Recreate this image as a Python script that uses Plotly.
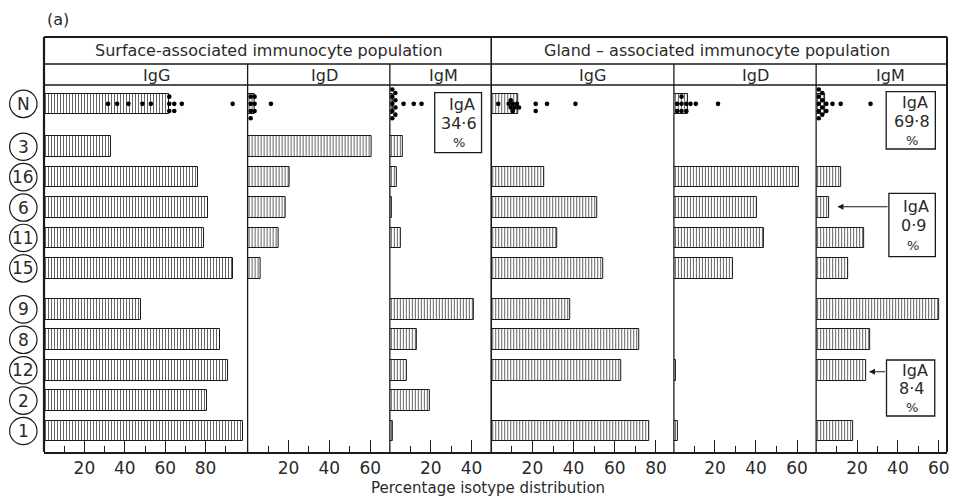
import plotly.graph_objects as go

# ---------------- data ----------------
rows = ["N", "3", "16", "6", "11", "15", "9", "8", "12", "2", "1"]
row_groups = [1, 5, 5]

surf_IgG = [61.7, 33.3, 76.1, 81.1, 79.4, 93.8, 48.2, 87.0, 91.3, 80.6, 98.4]
surf_IgD = [3.4, 60.6, 20.6, 18.4, 15.1, 6.2, None, None, None, None, None]
surf_IgM = [1.5, 6.2, 3.5, 1.1, 5.5, None, 41.0, 13.3, 8.5, 19.6, 1.4]
gland_IgG = [13.2, None, 25.8, 51.3, 32.1, 54.3, 38.4, 71.7, 63.0, None, 76.9]
gland_IgD = [6.8, None, 60.7, 40.3, 43.8, 28.6, None, None, 1.1, None, 1.9]
gland_IgM = [4.5, None, 12.2, 6.3, 23.4, 15.8, 60.1, 26.3, 24.5, None, 18.0]

# individual normal (N) values shown as dots
surf_IgG_N = [31.7, 36.2, 41.8, 48.7, 52.9, 62.0, 62.0, 62.0, 64.5, 64.5, 68.2, 93.4]
surf_IgD_N = [1.5, 1.5, 1.5, 1.5, 3.4, 3.4, 3.4, 11.4]
surf_IgM_N = [1.2, 1.2, 1.2, 1.2, 1.2, 2.7, 2.7, 2.7, 2.7, 6.7, 11.7, 15.5]
gland_IgG_N = [3.4, 8.5, 9.5, 10.5, 10.5, 11.5, 12.5, 13.5, 9.5, 21.6, 21.6, 27.1, 40.9]
gland_IgD_N = [1.6, 1.6, 3.7, 3.7, 3.7, 6.1, 6.1, 8.1, 10.7, 21.5]
gland_IgM_N = [1.3, 1.3, 1.3, 1.3, 1.3, 3.0, 3.0, 3.0, 3.0, 5.0, 5.0, 8.0, 12.0, 26.6]

iga_labels = ["34·6", "69·8", "0·9", "8·4"]

panel_titles = ["IgG", "IgD", "IgM", "IgG", "IgD", "IgM"]
group_titles = ["Surface-associated immunocyte population",
                "Gland – associated immunocyte population"]
major_ticks = [[20, 40, 60, 80], [20, 40, 60], [20, 40],
               [20, 40, 60, 80], [20, 40, 60], [20, 40, 60]]
minor_ticks = [[10, 30, 50, 70, 90], [10, 30, 50], [10, 30],
               [10, 30, 50, 70], [10, 30, 50], [10, 30, 50]]
x_title = "Percentage isotype distribution"

# ---------------- layout geometry (pixels) ----------------
W, H = 957, 498
L, R, T, B = 44, 950, 85, 452
PW, PH = R - L, B - T
borders = [44, 248.3, 391, 492.7, 676, 818.7, 950]
ranges = [100.8, 69.6, 49.6, 88.7, 69.3, 64.0]
UNIT = 30.4          # pixels per row unit
Y_TOP = 12.07


def fx(px):
    return (px - L) / PW


def fy(py):
    return (B - py) / PH


# row positions (computed from groups)
gaps = [0.41, 0.35]
y_pos = []
yc = 0.62
for gi, size in enumerate(row_groups):
    if gi > 0:
        yc += gaps[gi - 1]
    for _ in range(size):
        y_pos.append(yc)
        yc += 1.0


def beeswarm(values, px_per_unit, d=4.0, step=3.6):
    placed = []
    out = []
    for v in values:
        xp = v * px_per_unit
        cands = [0]
        for j in range(1, 20):
            cands += [j * step, -j * step]
        for dy in cands:
            ok = all((xp - a) ** 2 + (dy - b) ** 2 >= d * d * 0.92 for a, b in placed)
            if ok:
                placed.append((xp, dy))
                out.append(dy / UNIT)
                break
    return out


values = [surf_IgG, surf_IgD, surf_IgM, gland_IgG, gland_IgD, gland_IgM]
dots = [surf_IgG_N, surf_IgD_N, surf_IgM_N, gland_IgG_N, gland_IgD_N, gland_IgM_N]

FONT = "DejaVu Sans"
INK = "#1a1a1a"
TXT = "#2a2a2a"

fig = go.Figure()
layout_axes = {}
for i in range(6):
    xa = "x" if i == 0 else f"x{i+1}"
    key = "xaxis" if i == 0 else f"xaxis{i+1}"
    ppu = (borders[i + 1] - borders[i]) / ranges[i]
    fig.add_trace(go.Bar(
        x=values[i], y=y_pos, orientation="h", width=0.68,
        marker=dict(color="white", line=dict(color=INK, width=1),
                    pattern=dict(shape="|", size=3, solidity=0.3,
                                 fgcolor="#555", fillmode="replace")),
        xaxis=xa, yaxis="y", showlegend=False, hoverinfo="skip"))
    offs = beeswarm(dots[i], ppu)
    fig.add_trace(go.Scatter(
        x=dots[i], y=[y_pos[0] + o for o in offs], mode="markers",
        marker=dict(size=4.6, color="black"), cliponaxis=False,
        xaxis=xa, yaxis="y", showlegend=False, hoverinfo="skip"))
    layout_axes[key] = dict(
        domain=[fx(borders[i]), fx(borders[i + 1])], range=[0, ranges[i]],
        anchor="y", showline=True, linecolor=INK, linewidth=2,
        showgrid=False, zeroline=False,
        tickmode="array", tickvals=major_ticks[i],
        ticktext=[str(t) for t in major_ticks[i]],
        ticks="inside", ticklen=12, tickwidth=1.2, tickcolor=INK,
        tickfont=dict(family=FONT, size=17, color=TXT),
        minor=dict(tickmode="array", tickvals=minor_ticks[i], ticks="inside",
                   ticklen=6, tickwidth=1.2, tickcolor=INK, showgrid=False),
        fixedrange=True)

shapes = []


def line(x0, y0, x1, y1, w=1.5):
    shapes.append(dict(type="line", xref="paper", yref="paper",
                       x0=fx(x0), y0=fy(y0), x1=fx(x1), y1=fy(y1),
                       line=dict(color=INK, width=w)))


# frame
line(L, 37, R, 37, 2)
line(L, 64, R, 64, 1.5)
line(L, 85, R, 85, 1.5)
line(L, 37, L, B, 2.2)
line(R, 37, R, B, 2)
line(borders[3], 37, borders[3], B, 1.6)
for bx in [borders[1], borders[2], borders[4], borders[5]]:
    line(bx, 64, bx, B, 1.3)

annotations = []


def text(s, x, y, size, xanchor="center"):
    annotations.append(dict(text=s, x=fx(x), y=fy(y), xref="paper", yref="paper",
                            showarrow=False, xanchor=xanchor, yanchor="middle",
                            font=dict(family=FONT, size=size, color=TXT)))


text("(a)", 58, 20, 16)
text(group_titles[0], 269.5, 51, 16)
text(group_titles[1], 719, 51, 16)
for t, cx in zip(panel_titles, [156.7, 325, 445, 594, 757.5, 893]):
    text(t, cx, 75, 16)
text(x_title, 489, 488, 15)

# circled row labels
for r, yv in zip(rows, y_pos):
    shapes.append(dict(type="circle", xref="paper", yref="y",
                       x0=fx(9.5), x1=fx(37), y0=yv - 0.45, y1=yv + 0.45,
                       line=dict(color=INK, width=1.2)))
    annotations.append(dict(text=r, x=fx(23.2), y=yv, xref="paper", yref="y",
                            showarrow=False, xanchor="center", yanchor="middle",
                            font=dict(family=FONT, size=17, color=TXT)))

# IgA boxes
boxes = [
    (436, 92.7, 483, 152.7, [104, 123, 142]),
    (889, 91.7, 938.3, 149, [103, 121.5, 140.5]),
    (891.7, 193.3, 938.3, 256.7, [206, 225, 245]),
    (889.3, 360, 937.7, 416, [370, 388.5, 407]),
]
for (x0, y0, x1, y1, ly), lab in zip(boxes, iga_labels):
    shapes.append(dict(type="rect", xref="paper", yref="paper",
                       x0=fx(x0), y0=fy(y0), x1=fx(x1), y1=fy(y1),
                       line=dict(color=INK, width=1.3), fillcolor="white"))
    cx = (x0 + x1) / 2 + 1
    text("IgA", cx + 3, ly[0], 16)
    text(lab, cx, ly[1], 16)
    text("%", cx, ly[2], 13)

# arrows
for tip, tail, ya in [(840, 891.7, 206.7), (871.7, 889.3, 371.7)]:
    annotations.append(dict(text="", x=fx(tip), y=fy(ya), xref="paper", yref="paper",
                            ax=tail - tip, ay=0, axref="pixel", ayref="pixel",
                            showarrow=True, arrowhead=2, arrowsize=1.1,
                            arrowwidth=1.1, arrowcolor=INK))

fig.update_layout(
    width=W, height=H, margin=dict(l=L, r=W - R, t=T, b=H - B),
    paper_bgcolor="white", plot_bgcolor="white",
    yaxis=dict(domain=[0, 1], range=[Y_TOP, 0], showticklabels=False,
               showgrid=False, zeroline=False, showline=False, ticks="",
               fixedrange=True),
    shapes=shapes, annotations=annotations, bargap=0,
    **layout_axes)

fig.write_html("out.html", config={"displayModeBar": False},
               post_script="document.body.style.margin='0';document.body.style.padding='0';")
